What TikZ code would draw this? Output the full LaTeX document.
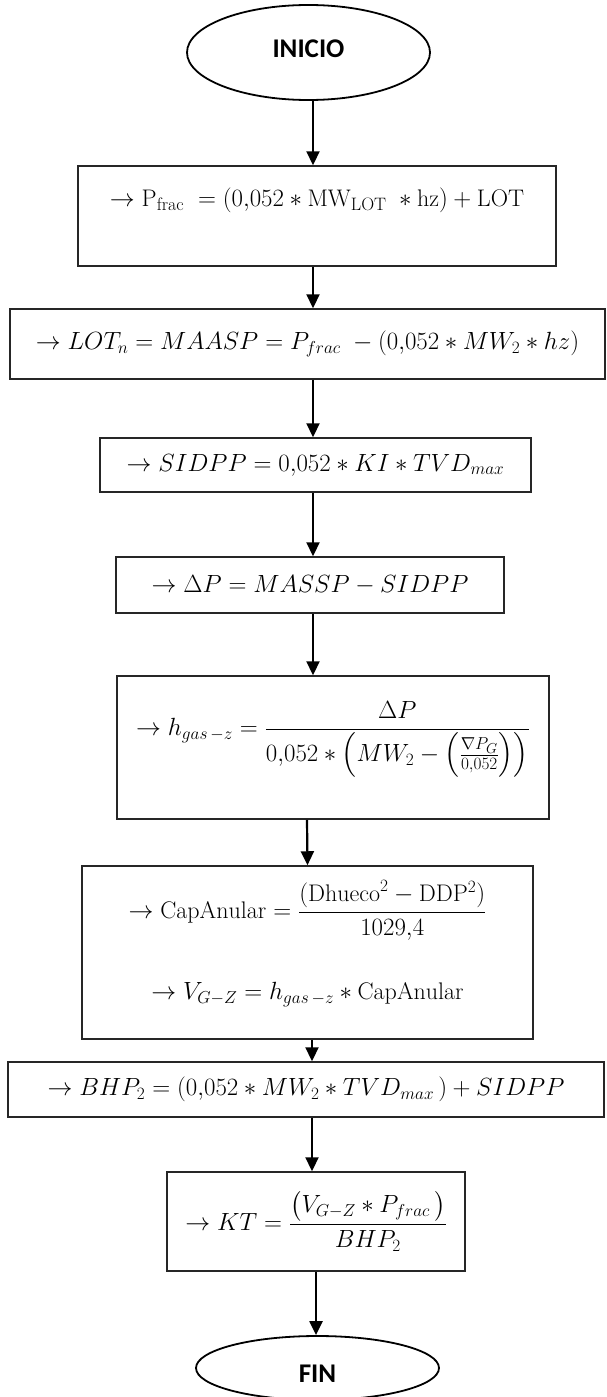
\documentclass[tikz,border=0pt]{standalone}
\usepackage{amsmath}
\usepackage{fontspec}
\newfontfamily\termfont{Carlito}
\usetikzlibrary{shapes.geometric,arrows.meta}
% larger sub- and superscripts for the formula size
\DeclareMathSizes{24}{24}{18}{14}

\begin{document}
\begin{tikzpicture}[x=1pt,y=-1pt,
  box/.style={draw=black!85,line width=1.5pt,rectangle,inner sep=0pt,
    align=center,font=\fontsize{24}{29}\selectfont},
  term/.style={draw=black,line width=1.8pt,ellipse,inner sep=0pt,
    font=\termfont\bfseries\fontsize{27}{32}\selectfont},
  flow/.style={line width=2.2pt,-{Triangle[length=14pt,width=13pt]}}]
\useasboundingbox (0,0) rectangle (606,1397);

% start / end terminals
\node[term,minimum width=243pt,minimum height=95pt] (ini) at (308.5,52.5)
  {\raisebox{4pt}[\height][\depth]{INICIO}};
\node[term,minimum width=243pt,minimum height=64pt] (fin) at (317.5,1368)
  {\raisebox{-6pt}[\height][\depth]{FIN}};

% process steps
\node[box,minimum width=478pt,minimum height=100pt] (b1) at (317,216)
  {\raisebox{16pt}[\height][\depth]{$\to \mathrm{P_{frac}}\; = (0{,}052 \ast \mathrm{MW_{LOT}}\; \ast \mathrm{hz}) + \mathrm{LOT}$}};
\node[box,minimum width=595pt,minimum height=70pt] (b2) at (307.5,344)
  {$\to LOT_n = MAASP = P_{frac}\; - (0{,}052 \ast MW_2 \ast hz)$};
\node[box,minimum width=431pt,minimum height=54pt] (b3) at (315.5,465)
  {$\to SIDPP = 0{,}052 \ast KI \ast TVD_{max}$};
\node[box,minimum width=388pt,minimum height=56pt] (b4) at (310,585)
  {$\to \Delta P = MASSP - SIDPP$};
\node[box,minimum width=432pt,minimum height=143pt] (b5) at (333,747.5)
  {\raisebox{8pt}[\height][\depth]{$\displaystyle \to h_{gas\,-z} = \frac{\Delta P}{0{,}052 \ast \left(MW_2 - \left(\tfrac{\nabla P_G}{0{,}052}\right)\right)}$}};
\node[box,minimum width=451pt,minimum height=173pt] (b6) at (307.5,952.5)
  {\raisebox{8pt}[\height][\depth]{\begin{tabular}{@{}c@{}}
     $\displaystyle \to \mathrm{CapAnular} = \frac{(\mathrm{Dhueco}^2 - \mathrm{DDP}^2)}{1029{,}4}$\\[52pt]
     $\to V_{G-Z} = h_{gas\,-z} \ast \mathrm{CapAnular}$
   \end{tabular}}};
\node[box,minimum width=596pt,minimum height=55pt] (b7) at (306,1089.5)
  {$\to BHP_2 = (0{,}052 \ast MW_2 \ast TVD_{max}\,) + SIDPP$};
\node[box,minimum width=298pt,minimum height=99pt] (b8) at (316,1221.5)
  {$\displaystyle \to KT = \frac{\bigl(V_{G-Z} \ast P_{frac}\,\bigr)}{BHP_2}$};

% connectors
\draw[flow] ([xshift=4.5pt]ini.south) -- ([xshift=-4pt]b1.north);
\draw[flow] ([xshift=-4pt]b1.south) -- ([xshift=5.5pt]b2.north);
\draw[flow] ([xshift=5.5pt]b2.south) -- ([xshift=-2.5pt]b3.north);
\draw[flow] ([xshift=-2.5pt]b3.south) -- ([xshift=3pt]b4.north);
\draw[flow] ([xshift=3pt]b4.south) -- ([xshift=-20pt]b5.north);
\draw[flow] ([xshift=-26pt]b5.south) -- (b6.north);
\draw[flow] ([xshift=4.5pt]b6.south) -- ([xshift=6pt]b7.north);
\draw[flow] ([xshift=6pt]b7.south) -- ([xshift=-4pt]b8.north);
\draw[flow] (b8.south) -- ([xshift=-1.5pt]fin.north);
\end{tikzpicture}
\end{document}
